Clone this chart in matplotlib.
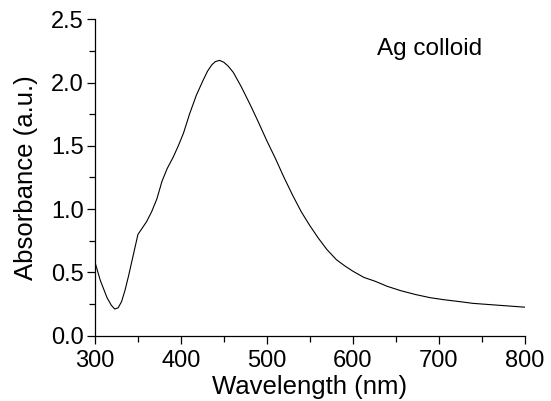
import matplotlib
matplotlib.use("Agg")
import matplotlib.pyplot as plt
from matplotlib.ticker import MultipleLocator

wavelength = [300, 306, 314, 319, 323, 327, 331, 335, 339, 345, 350, 355, 360, 366,
              372, 378, 384, 391, 397, 403, 410, 418, 426, 431, 436, 440, 445, 450,
              455, 461, 470, 481, 490, 500, 510, 520, 530, 540, 550, 560, 570, 581,
              591, 600, 613, 626, 640, 656, 673, 690, 705, 723, 740, 760, 780, 800]
absorbance = [0.58, 0.44, 0.30, 0.24, 0.21, 0.22, 0.27, 0.36, 0.47, 0.65, 0.80, 0.85,
              0.90, 0.98, 1.08, 1.22, 1.32, 1.41, 1.50, 1.60, 1.75, 1.90, 2.02, 2.09,
              2.14, 2.165, 2.175, 2.16, 2.13, 2.08, 1.97, 1.82, 1.69, 1.54, 1.40, 1.25,
              1.11, 0.98, 0.87, 0.77, 0.68, 0.60, 0.55, 0.51, 0.46, 0.43, 0.39, 0.355,
              0.325, 0.30, 0.285, 0.27, 0.255, 0.245, 0.235, 0.225]

x_ticks = [300, 400, 500, 600, 700, 800]
y_ticks = [0.0, 0.5, 1.0, 1.5, 2.0, 2.5]
x_label = "Wavelength (nm)"
y_label = "Absorbance (a.u.)"
annotation = "Ag colloid"

plt.rcParams['font.family'] = ['Liberation Sans', 'DejaVu Sans']

fig = plt.figure(figsize=(5.51, 4.01), dpi=100)
ax = fig.add_axes([0.1724, 0.163, 0.7796, 0.789])
ax.plot(wavelength, absorbance, color='black', linewidth=0.8)

ax.set_xlim(300, 800)
ax.set_ylim(0, 2.5)
ax.set_xticks(x_ticks)
ax.set_yticks(y_ticks)
ax.set_yticklabels([f"{v:.1f}" for v in y_ticks])
ax.xaxis.set_minor_locator(MultipleLocator(50))
ax.yaxis.set_minor_locator(MultipleLocator(0.25))

for side in ['top', 'right']:
    ax.spines[side].set_visible(False)
for side in ['left', 'bottom']:
    ax.spines[side].set_linewidth(0.9)

ax.tick_params(axis='both', which='major', direction='out', length=6, width=0.9,
               labelsize=17)
ax.tick_params(axis='x', which='major', pad=4)
ax.tick_params(axis='y', which='major', pad=2)
ax.tick_params(axis='both', which='minor', direction='out', length=4, width=0.9)

ax.set_xlabel(x_label, fontsize=18.5)
ax.xaxis.set_label_coords(0.5, -0.186)
ax.xaxis.label.set_verticalalignment('baseline')
ax.set_ylabel(y_label, fontsize=18.5)
ax.yaxis.set_label_coords(-0.1443, 0.5)
ax.yaxis.label.set_verticalalignment('baseline')

ax.text(0.6556, 0.887, annotation, fontsize=17.5, va='baseline', ha='left',
        transform=ax.transAxes)

fig.savefig("out.png", dpi=100)
